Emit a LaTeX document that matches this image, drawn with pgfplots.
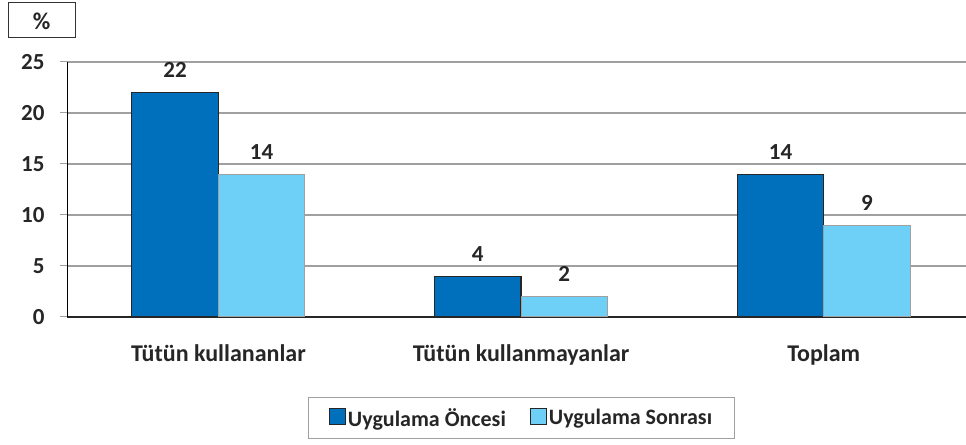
\documentclass[border=0pt]{standalone}
\usepackage{pgfplots}
\pgfplotsset{compat=1.18}
\usepackage{fontspec}
\setmainfont{Carlito}
\definecolor{darkbar}{HTML}{0070BC}
\definecolor{lightbar}{HTML}{6ED0F6}
\definecolor{gridgray}{HTML}{A0A0A0}
\begin{document}
\begin{tikzpicture}[x=1bp,y=1bp]
\useasboundingbox (0,0) rectangle (966,445);
\draw[black!80, line width=1bp] (8,407) rectangle (75,442);
\node[font=\fontsize{24bp}{28bp}\selectfont\bfseries, text=black!85] at (41.5,424) {\%};
\begin{axis}[
  at={(67bp,128bp)}, anchor=south west,
  scale only axis, width=899bp, height=255bp,
  xmin=-0.5, xmax=2.47, ymin=0, ymax=25,
  axis x line*=bottom, axis y line*=left,
  x axis line style={draw=black!85, line width=1.2bp, -},
  y axis line style={draw=black, line width=1bp, -},
  ytick={0,5,10,15,20,25},
  xtick={0,1,2},
  xticklabels={Tütün kullananlar, Tütün kullanmayanlar, Toplam},
  x tick style={draw=none},
  y tick style={draw=gridgray, line width=1bp},
  tick align=outside, major tick length=7bp,
  extra x ticks={-0.5,0.5,1.5},
  extra x tick labels={},
  extra x tick style={tick style={draw=gridgray, line width=1bp}, major tick length=8bp},
  ymajorgrids, grid style={draw=gridgray, line width=1.2bp},
  /pgf/number format/assume math mode=true,
  yticklabel style={font=\fontsize{23bp}{27bp}\selectfont\bfseries, text=black!85, xshift=-12bp},
  xticklabel style={font=\fontsize{24bp}{28bp}\selectfont\bfseries, text=black!85, yshift=-17bp},
  ybar=0pt, bar width=86.5bp,
  nodes near coords,
  nodes near coords style={font=\fontsize{23bp}{27bp}\selectfont\bfseries, text=black!85, anchor=south, yshift=11bp, /pgf/number format/fixed, /pgf/number format/precision=0},
  legend columns=2,
  legend style={at={(0.5056,-0.396)}, anchor=center, draw=gridgray, line width=1bp,
    font=\fontsize{22bp}{26bp}\selectfont\bfseries, text=black!85,
    inner xsep=20bp, inner ysep=9bp,
    /tikz/every even column/.append style={column sep=22bp}},
  legend image code/.code={\draw[#1, draw=black!85, line width=1bp] (0bp,-7bp) rectangle (16bp,9bp);},
]
\addplot[fill=darkbar, draw=black!85, line width=1.2bp] coordinates {(0,22) (1,4) (2,14)};
\addplot[fill=lightbar, draw=gridgray, line width=1bp] coordinates {(0,14) (1,2) (2,9)};
\legend{Uygulama Öncesi, Uygulama Sonrası}
\end{axis}
\end{tikzpicture}
\end{document}
